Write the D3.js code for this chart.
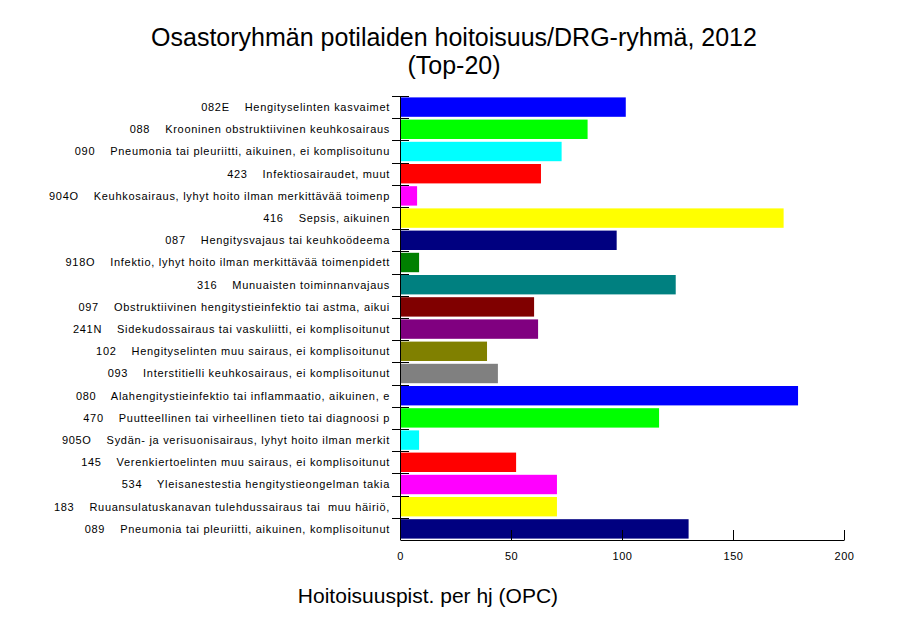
<!DOCTYPE html>
<html>
<head>
<meta charset="utf-8">
<script src="https://cdn.jsdelivr.net/npm/d3@7"></script>
<style>
  body { margin: 0; background: #fff; }
  text { font-family: "Liberation Sans", Arial, sans-serif; fill: #000; }
</style>
</head>
<body>
<div id="chart"></div>
<script>
(function() {
  'use strict';

  // DRG codes and group names (top to bottom)
  var codes = ['082E', '088', '090', '423', '904O', '416', '087', '918O', '316', '097',
               '241N', '102', '093', '080', '470', '905O', '145', '534', '183', '089'];

  var names = [
    'Hengityselinten kasvaimet',
    'Krooninen obstruktiivinen keuhkosairaus',
    'Pneumonia tai pleuriitti, aikuinen, ei komplisoitunu',
    'Infektiosairaudet, muut',
    'Keuhkosairaus, lyhyt hoito ilman merkittävää toimenp',
    'Sepsis, aikuinen',
    'Hengitysvajaus tai keuhkoödeema',
    'Infektio, lyhyt hoito ilman merkittävää toimenpidett',
    'Munuaisten toiminnanvajaus',
    'Obstruktiivinen hengitystieinfektio tai astma, aikui',
    'Sidekudossairaus tai vaskuliitti, ei komplisoitunut',
    'Hengityselinten muu sairaus, ei komplisoitunut',
    'Interstitielli keuhkosairaus, ei komplisoitunut',
    'Alahengitystieinfektio tai inflammaatio, aikuinen, e',
    'Puutteellinen tai virheellinen tieto tai diagnoosi p',
    'Sydän- ja verisuonisairaus, lyhyt hoito ilman merkit',
    'Verenkiertoelinten muu sairaus, ei komplisoitunut',
    'Yleisanestestia hengitystieongelman takia',
    'Ruuansulatuskanavan tulehdussairaus tai  muu häiriö,',
    'Pneumonia tai pleuriitti, aikuinen, komplisoitunut'
  ];

  var values = [101.7, 84.5, 72.8, 63.5, 7.7, 172.8, 97.6, 8.6, 124.2, 60.4,
                62.2, 39.2, 44.1, 179.3, 116.7, 8.6, 52.3, 70.7, 70.7, 130.0];

  var colors = ['#0000ff', '#00ff00', '#00ffff', '#ff0000', '#ff00ff', '#ffff00', '#000080',
                '#008000', '#008080', '#800000', '#800080', '#808000', '#808080',
                '#0000ff', '#00ff00', '#00ffff', '#ff0000', '#ff00ff', '#ffff00', '#000080'];

  var xTicks = [0, 50, 100, 150, 200];

  var width = 917, height = 624;
  var margin = { top: 96, right: 73, bottom: 84, left: 400 };
  var plotW = width - margin.left - margin.right;
  var plotH = height - margin.top - margin.bottom;

  var svg = d3.select('#chart').append('svg')
    .attr('width', width)
    .attr('height', height);

  // Title
  svg.append('text')
    .attr('x', 454).attr('y', 46)
    .attr('text-anchor', 'middle')
    .attr('font-size', '25px')
    .text('Osastoryhmän potilaiden hoitoisuus/DRG-ryhmä, 2012');
  svg.append('text')
    .attr('x', 454).attr('y', 74)
    .attr('text-anchor', 'middle')
    .attr('font-size', '25px')
    .text('(Top-20)');

  var g = svg.append('g')
    .attr('transform', 'translate(' + margin.left + ',' + margin.top + ')');

  var x = d3.scaleLinear().domain([0, 200]).range([0, plotW]);
  var idx = d3.range(codes.length);
  var y = d3.scaleBand().domain(idx).range([0, plotH])
    .paddingInner(0.126).paddingOuter(0.063);
  var yEdge = d3.scaleBand().domain(idx).range([0, plotH]).padding(0);

  // Bars
  g.selectAll('.bar')
    .data(idx)
    .enter().append('rect')
    .attr('class', 'bar')
    .attr('x', x(0))
    .attr('y', function(i) { return y(i); })
    .attr('width', function(i) { return x(values[i]) - x(0); })
    .attr('height', y.bandwidth())
    .attr('fill', function(i) { return colors[i]; });

  // Y axis line + boundary ticks
  g.append('line')
    .attr('x1', 0.5).attr('x2', 0.5)
    .attr('y1', 0).attr('y2', plotH)
    .attr('stroke', '#000');
  g.selectAll('.ytick')
    .data(idx)
    .enter().append('line')
    .attr('class', 'ytick')
    .attr('x1', -8).attr('x2', 9)
    .attr('y1', function(i) { return Math.round(yEdge(i)) + 0.5; })
    .attr('y2', function(i) { return Math.round(yEdge(i)) + 0.5; })
    .attr('stroke', '#000');

  // Category labels
  g.selectAll('.ylab')
    .data(idx)
    .enter().append('text')
    .attr('class', 'ylab')
    .attr('x', -10)
    .attr('y', function(i) { return yEdge(i) + yEdge.bandwidth() / 2; })
    .attr('dy', '0.35em')
    .attr('text-anchor', 'end')
    .attr('font-size', '11px')
    .attr('letter-spacing', '0.7px')
    .style('white-space', 'pre')
    .text(function(i) { return codes[i] + '    ' + names[i]; });

  // X axis
  var xAxis = d3.axisBottom(x).tickValues(xTicks).tickSize(0).tickPadding(12);
  var xa = g.append('g')
    .attr('transform', 'translate(0,' + plotH + ')')
    .call(xAxis);
  xa.select('.domain').attr('stroke', '#000');
  xa.selectAll('.tick text')
    .attr('font-size', '11px')
    .attr('letter-spacing', '0.5px')
    .attr('font-family', '"Liberation Sans", Arial, sans-serif')
    .attr('fill', '#000');
  xa.selectAll('.tick').append('line')
    .attr('y1', 0).attr('y2', -10)
    .attr('stroke', '#000');

  // X axis title
  svg.append('text')
    .attr('x', 428).attr('y', 603)
    .attr('text-anchor', 'middle')
    .attr('font-size', '21px')
    .text('Hoitoisuuspist. per hj (OPC)');
})();
</script>
</body>
</html>
